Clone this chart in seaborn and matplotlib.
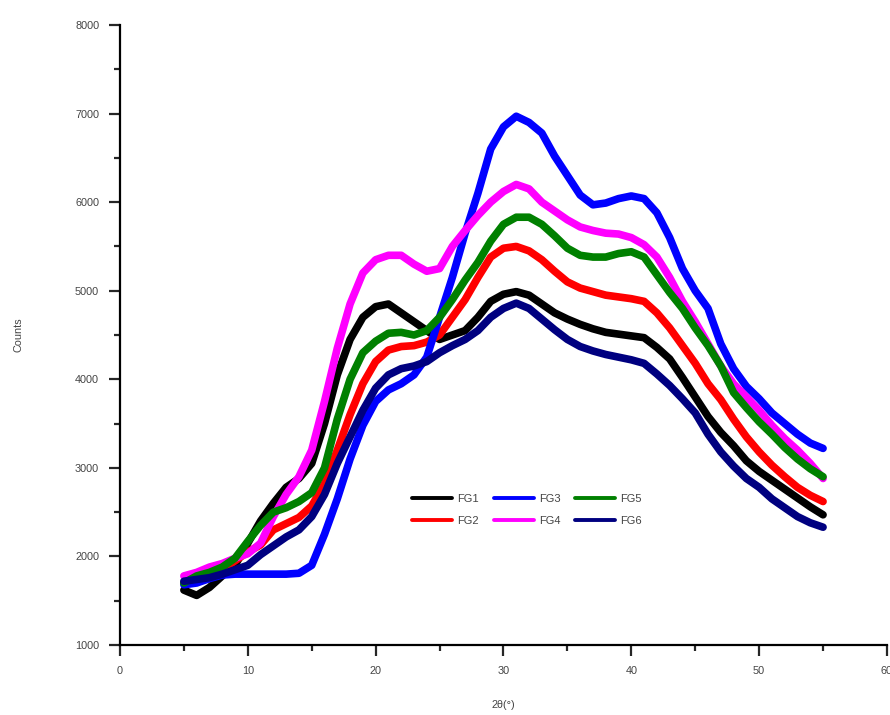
import numpy as np
import pandas as pd
import matplotlib
matplotlib.use("Agg")
import matplotlib.pyplot as plt
from matplotlib.ticker import MultipleLocator
import seaborn as sns

# ---- data ----
two_theta = list(range(5, 56))

fg1 = [1620, 1560, 1650, 1780, 1900, 2150, 2400, 2600, 2780, 2880,
       3050, 3500, 4050, 4450, 4700, 4820, 4850, 4750, 4650, 4550,
       4450, 4500, 4550, 4700, 4880, 4960, 4990, 4950, 4850, 4750,
       4680, 4620, 4570, 4530, 4510, 4490, 4470, 4360, 4230, 4020,
       3800, 3580, 3400, 3250, 3080, 2960, 2860, 2760, 2660, 2560, 2470]
fg2 = [1700, 1720, 1780, 1850, 1950, 2050, 2130, 2300, 2370, 2440,
       2570, 2820, 3200, 3600, 3950, 4200, 4330, 4370, 4380, 4420,
       4500, 4700, 4900, 5150, 5380, 5480, 5500, 5450, 5350, 5220,
       5100, 5030, 4990, 4950, 4930, 4910, 4880, 4750, 4580, 4380,
       4180, 3950, 3770, 3550, 3350, 3180, 3030, 2900, 2780, 2690, 2620]
fg3 = [1680, 1700, 1750, 1790, 1800, 1800, 1800, 1800, 1800, 1810,
       1900, 2250, 2650, 3100, 3480, 3750, 3880, 3950, 4050, 4250,
       4700, 5150, 5650, 6100, 6600, 6850, 6970, 6900, 6780, 6520,
       6300, 6080, 5970, 5990, 6040, 6070, 6040, 5880, 5600, 5250,
       5000, 4800, 4400, 4120, 3920, 3780, 3620, 3500, 3380, 3280, 3220]
fg4 = [1780, 1820, 1880, 1920, 1980, 2030, 2150, 2450, 2700, 2900,
       3200, 3750, 4350, 4850, 5200, 5350, 5400, 5400, 5300, 5220,
       5250, 5500, 5680, 5850, 6000, 6120, 6200, 6150, 6000, 5900,
       5800, 5720, 5680, 5650, 5640, 5600, 5520, 5380, 5150, 4880,
       4650, 4400, 4150, 3950, 3800, 3650, 3480, 3330, 3200, 3050, 2880]
fg5 = [1700, 1780, 1820, 1880, 1980, 2170, 2350, 2500, 2550, 2620,
       2720, 3000, 3550, 4000, 4300, 4430, 4520, 4530, 4500, 4550,
       4700, 4900, 5120, 5320, 5560, 5750, 5830, 5830, 5750, 5620,
       5480, 5400, 5380, 5380, 5420, 5440, 5380, 5180, 4980, 4800,
       4580, 4380, 4150, 3850, 3680, 3520, 3380, 3230, 3100, 2990, 2900]
fg6 = [1720, 1740, 1760, 1800, 1850, 1900, 2020, 2120, 2220, 2300,
       2450, 2700, 3050, 3350, 3650, 3900, 4050, 4120, 4150, 4200,
       4300, 4380, 4450, 4550, 4700, 4800, 4860, 4800, 4680, 4560,
       4450, 4370, 4320, 4280, 4250, 4220, 4180, 4060, 3930, 3780,
       3620, 3380, 3180, 3020, 2880, 2780, 2650, 2550, 2450, 2380, 2330]

samples = ["FG1", "FG2", "FG3", "FG4", "FG5", "FG6"]
colors = ["#000000", "#FF0000", "#0000FF", "#FF00FF", "#008000", "#000080"]
x_ticks = [0, 10, 20, 30, 40, 50, 60]
y_ticks = [1000, 2000, 3000, 4000, 5000, 6000, 7000, 8000]

series = [fg1, fg2, fg3, fg4, fg5, fg6]
df = pd.concat(
    [pd.DataFrame({"two_theta": two_theta, "counts": s, "sample": name})
     for name, s in zip(samples, series)],
    ignore_index=True,
)

sns.set_style("ticks")
plt.rcParams["font.family"] = ["Liberation Sans", "DejaVu Sans"]

fig = plt.figure(figsize=(8.9, 7.15), dpi=100)
ax = fig.add_axes([0.1348, 0.0979, 0.8618, 0.8671])

sns.lineplot(data=df, x="two_theta", y="counts", hue="sample",
             palette=dict(zip(samples, colors)), hue_order=samples,
             linewidth=5.5, ax=ax, legend=True)

ax.set_xlim(0, 60)
ax.set_ylim(1000, 8000)
ax.set_xticks(x_ticks)
ax.set_yticks(y_ticks)
ax.xaxis.set_minor_locator(MultipleLocator(5))
ax.yaxis.set_minor_locator(MultipleLocator(500))
ax.tick_params(which="major", direction="out", length=8, width=1.6,
               labelsize=7.8, labelcolor="#444444", pad=7)
ax.tick_params(which="minor", direction="out", length=4.5, width=1.6)

for side in ["top", "right"]:
    ax.spines[side].set_visible(False)
for side in ["left", "bottom"]:
    ax.spines[side].set_linewidth(1.6)
    ax.spines[side].set_color("black")

ax.set_xlabel("2θ(°)", fontsize=7.8, color="#444444")
ax.set_ylabel("Counts", fontsize=7.8, color="#444444")
ax.xaxis.set_label_coords(0.5, -0.088)
ax.yaxis.set_label_coords(-0.126, 0.5)

handles, labels = ax.get_legend_handles_labels()
leg = ax.legend(handles, labels, ncol=3, loc="upper left",
                bbox_to_anchor=(0.381, 0.243), frameon=False,
                fontsize=8, handlelength=3.6, handletextpad=0.45,
                columnspacing=1.35, labelspacing=1.05, borderpad=0,
                borderaxespad=0)
for line in leg.get_lines():
    line.set_linewidth(2.8)
for t in leg.get_texts():
    t.set_color("#444444")

fig.savefig("out.png", dpi=100)
